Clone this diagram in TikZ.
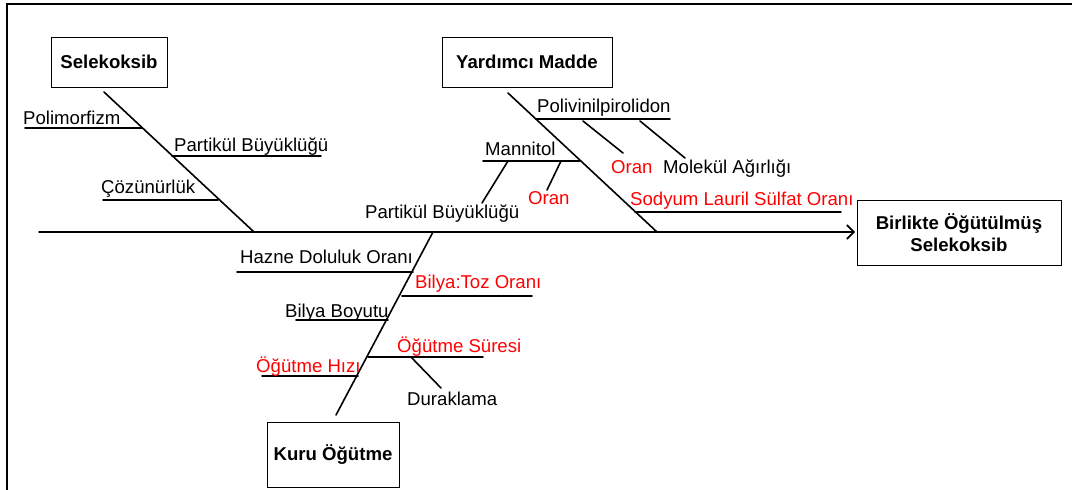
\documentclass[tikz,border=0pt]{standalone}
\usepackage{fontspec}
\setmainfont{Liberation Sans}
\usetikzlibrary{arrows.meta}
\definecolor{lblred}{RGB}{255,0,0}
\begin{document}
\begin{tikzpicture}[x=1pt,y=-1pt,
  bone/.style={line width=1.6pt,line cap=round},
  box/.style={draw,line width=1pt,inner sep=0pt,font=\fontsize{18.6}{21.5}\selectfont\bfseries},
  lbl/.style={anchor=base west,inner sep=0pt,font=\fontsize{18.6}{21}\selectfont},
  rlbl/.style={lbl,text=lblred}]
\useasboundingbox (0,0) rectangle (1072,490);
\draw[line width=2pt] (7,490) -- (7,4) -- (1072,4);

% boxes
\node[box,minimum width=116pt,minimum height=50pt] (sel) at (109,62) {Selekoksib};
\node[box,minimum width=170pt,minimum height=50pt] (yar) at (527,62) {Yardımcı Madde};
\node[box,minimum width=132pt,minimum height=65pt] (kuru) at (333,454.5) {Kuru Öğütme};
\node[box,minimum width=204pt,minimum height=65pt,align=center] (out) at (959,232.5) {Birlikte Öğütülmüş\\Selekoksib};

% spine
\coordinate (sp0) at (39,232);
\coordinate (sptip) at (855,232);
\draw[bone,-{Straight Barb[length=7pt,width=14pt,line width=1.6pt]}] (sp0) -- (sptip);

% Selekoksib bone
\coordinate (s1) at (104,92); \coordinate (s2) at (254,232);
\draw[bone] (s1) -- (s2);
\coordinate (pa) at (25,128); \coordinate (pb) at (142,128);
\draw[bone] (pa) -- (pb);
\node[lbl] (polim) at (23,124) {Polimorfizm};
\coordinate (ba) at (172,156); \coordinate (bb) at (321,156);
\draw[bone] (ba) -- (bb);
\node[lbl] (part1) at (174,151) {Partikül Büyüklüğü};
\coordinate (ca) at (103,200); \coordinate (cb) at (218,200);
\draw[bone] (ca) -- (cb);
\node[lbl] (coz) at (101,193) {Çözünürlük};

% Yardimci Madde bone
\coordinate (y1) at (508,93); \coordinate (y2) at (657,232);
\draw[bone] (y1) -- (y2);
\coordinate (pva) at (536,119); \coordinate (pvb) at (670,119);
\draw[bone] (pva) -- (pvb);
\node[lbl] (pvp) at (537,112) {Polivinilpirolidon};
\coordinate (o1a) at (583,121); \coordinate (o1b) at (623,153);
\draw[bone] (o1a) -- (o1b);
\node[rlbl] (oran1) at (611,173) {Oran};
\coordinate (m1a) at (640,121); \coordinate (m1b) at (685,158);
\draw[bone] (m1a) -- (m1b);
\node[lbl] (mol) at (663,173) {Molekül Ağırlığı};
\coordinate (mna) at (483,161); \coordinate (mnb) at (580,161);
\draw[bone] (mna) -- (mnb);
\node[lbl] (man) at (485,155) {Mannitol};
\coordinate (mpa) at (508,161); \coordinate (mpb) at (482,203);
\draw[bone] (mpa) -- (mpb);
\node[lbl] (part2) at (365,218) {Partikül Büyüklüğü};
\coordinate (moa) at (561,161); \coordinate (mob) at (547,190);
\draw[bone] (moa) -- (mob);
\node[rlbl] (oran2) at (528,204) {Oran};
\coordinate (sla) at (635,212); \coordinate (slb) at (841,212);
\draw[bone] (sla) -- (slb);
\node[rlbl] (sls) at (630,205) {Sodyum Lauril Sülfat Oranı};

% Kuru Ogutme bone
\coordinate (k1) at (433,232); \coordinate (k2) at (336,415);
\draw[bone] (k1) -- (k2);
\coordinate (ha) at (237,272); \coordinate (hb) at (413,272);
\draw[bone] (ha) -- (hb);
\node[lbl] (hazne) at (240,263) {Hazne Doluluk Oranı};
\coordinate (bta) at (402,296); \coordinate (btb) at (532,296);
\draw[bone] (bta) -- (btb);
\node[rlbl] (btoz) at (415,288) {Bilya:Toz Oranı};
\coordinate (bba) at (296,320); \coordinate (bbb) at (388,320);
\draw[bone] (bba) -- (bbb);
\node[lbl] (bboy) at (285,317) {Bilya Boyutu};
\coordinate (osa) at (368,357); \coordinate (osb) at (483,357);
\draw[bone] (osa) -- (osb);
\node[rlbl] (osure) at (397,352) {Öğütme Süresi};
\coordinate (da) at (411,357); \coordinate (db) at (441,388);
\draw[bone] (da) -- (db);
\node[lbl] (dur) at (407,405) {Duraklama};
\coordinate (oha) at (262,376); \coordinate (ohb) at (358,376);
\draw[bone] (oha) -- (ohb);
\node[rlbl] (ohiz) at (256,372) {Öğütme Hızı};
\end{tikzpicture}
\end{document}
